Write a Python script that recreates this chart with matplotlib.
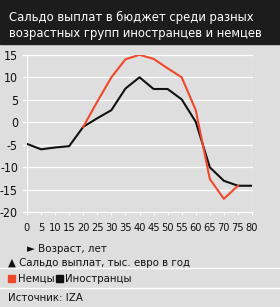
import matplotlib
matplotlib.use("Agg")
import matplotlib.pyplot as plt
import numpy as np

plt.rcParams['font.family'] = ['DejaVu Sans']
plt.rcParams['font.stretch'] = 'condensed'

title = "Сальдо выплат в бюджет среди разных\nвозрастных групп иностранцев и немцев"
ages = [0, 5, 10, 15, 20, 25, 30, 35, 40, 45, 50, 55, 60, 65, 70, 75, 80]
foreigners = [-4.8, -6.0, -5.6, -5.3, -1.0, 0.9, 2.7, 7.5, 10.0, 7.4, 7.4, 5.1, 0.1, -10.0, -13.0, -14.1, -14.1]
ages_de = [20, 25, 30, 35, 40, 45, 50, 55, 60, 65, 70, 75]
germans = [-1.0, 4.6, 10.0, 14.0, 15.0, 14.1, 12.0, 10.0, 2.7, -12.6, -17.0, -14.1]
yticks = [15, 10, 5, 0, -5, -10, -15, -20]

RED = '#f0482a'
BLACK = '#111111'
BG = '#dedede'
TXT = '#111111'

W, H = 280, 307
fig = plt.figure(figsize=(W / 100, H / 100), dpi=100, facecolor=BG)

# тёмная шапка
fig.patches.append(plt.Rectangle((0, 1 - 44 / H), 1, 44 / H, transform=fig.transFigure,
                                 color='#1c1c1c', zorder=0))
fig.text(9 / W, 1 - 25 / H, title, color='white', fontsize=9.3, va='center', ha='left',
         linespacing=1.3)

ax = fig.add_axes([27 / W, 1 - 212.3 / H, 225 / W, (212.3 - 54.8) / H])
ax.set_facecolor(BG)
for s in ax.spines.values():
    s.set_visible(False)
ax.set_xlim(0, 80)
ax.set_ylim(-20, 15)

for yv in yticks:
    ax.axhline(yv, xmin=-0.018, xmax=1, color='white', lw=0.9, clip_on=False, zorder=1)
ax.axvline(0, color='white', lw=0.9, zorder=1)
ax.axvline(80, color='white', lw=0.9, zorder=1)

ax.plot(ages, foreigners, color=BLACK, lw=1.5, zorder=3)
ax.plot(ages_de, germans, color=RED, lw=1.5, zorder=4)

ax.set_xticks(ages)
ax.set_xticklabels([str(a) for a in ages])
ax.set_yticks(yticks)
ax.set_yticklabels([str(v) for v in yticks])
ax.tick_params(axis='x', colors='white', length=2.5, width=0.8, labelcolor=TXT,
               labelsize=7.9, pad=5.5)
ax.tick_params(axis='y', length=0, labelcolor=TXT, labelsize=8.9, pad=6.5)

fig.text(27 / W, 1 - 249 / H, "► Возраст, лет", fontsize=8.2, va='center', ha='left', color=TXT)
fig.text(8 / W, 1 - 263 / H, "▲ Сальдо выплат, тыс. евро в год", fontsize=8.2, va='center',
         ha='left', color=TXT)

# разделители
for yp in (268, 288):
    fig.add_artist(plt.Line2D([0, 1], [1 - yp / H, 1 - yp / H], transform=fig.transFigure,
                              color='white', lw=1))

fig.patches.append(plt.Rectangle((8 / W, 1 - 282 / H), 7 / W, 7 / H, transform=fig.transFigure,
                                 color=RED))
fig.text(18 / W, 1 - 278.5 / H, "Немцы", fontsize=8.2, va='center', ha='left', color=TXT)
fig.patches.append(plt.Rectangle((56 / W, 1 - 282 / H), 7 / W, 7 / H, transform=fig.transFigure,
                                 color=BLACK))
fig.text(65 / W, 1 - 278.5 / H, "Иностранцы", fontsize=8.2, va='center', ha='left', color=TXT)

fig.text(8 / W, 1 - 298 / H, "Источник: IZA", fontsize=8.2, va='center', ha='left', color=TXT)

fig.savefig("out.png", dpi=100, facecolor=BG)
